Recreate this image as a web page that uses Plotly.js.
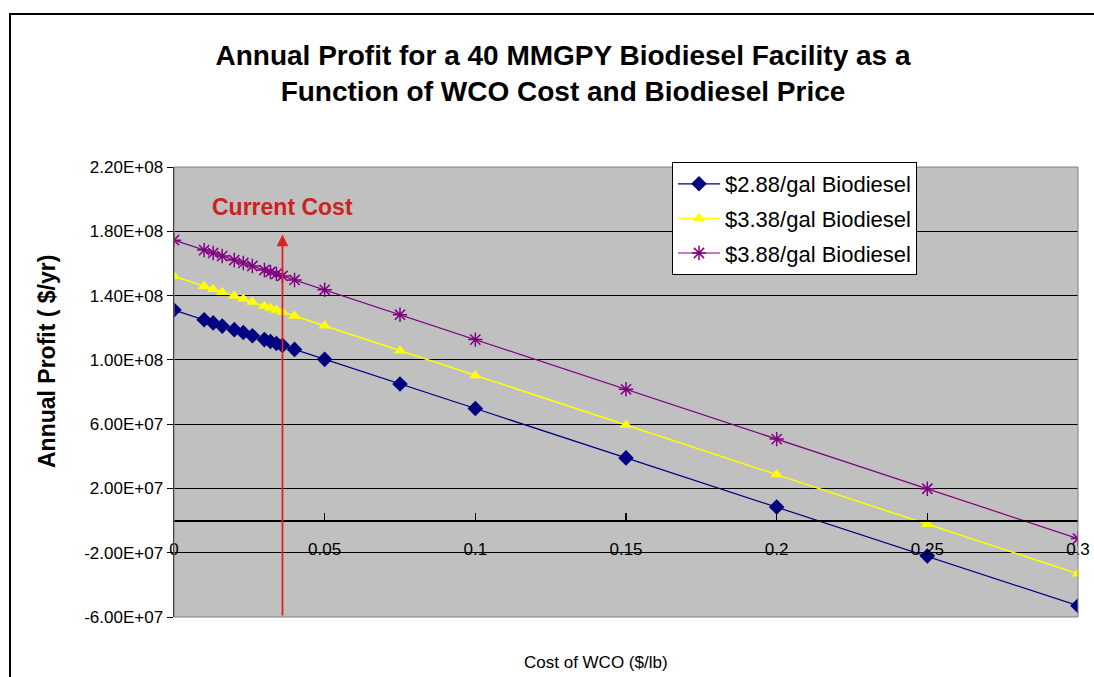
<!DOCTYPE html>
<html>
<head>
<meta charset="utf-8">
<script src="https://cdn.plot.ly/plotly-3.0.1.min.js"></script>
<style>
html,body{margin:0;padding:0;background:#fff;}
#chart{width:1094px;height:677px;}
</style>
</head>
<body>
<div id="chart"></div>
<script>
// WCO cost ($/lb)
const wcoCost = [0, 0.01, 0.013, 0.016, 0.02, 0.023, 0.026, 0.03, 0.032, 0.034, 0.036, 0.04, 0.05, 0.075, 0.1, 0.15, 0.2, 0.25, 0.3];
// Annual profit ($/yr)
const profit288 = [1.31e8, 1.25e8, 1.23e8, 1.21e8, 1.188e8, 1.17e8, 1.15e8, 1.126e8, 1.114e8, 1.102e8, 1.09e8, 1.065e8, 1.003e8, 8.5e7, 6.97e7, 3.9e7, 8.4e6, -2.2e7, -5.3e7];
const profit338 = [1.52e8, 1.458e8, 1.44e8, 1.421e8, 1.397e8, 1.378e8, 1.36e8, 1.335e8, 1.323e8, 1.31e8, 1.298e8, 1.273e8, 1.212e8, 1.057e8, 9.03e7, 5.95e7, 2.86e7, -2.3e6, -3.31e7];
const profit388 = [1.745e8, 1.683e8, 1.665e8, 1.646e8, 1.621e8, 1.603e8, 1.584e8, 1.559e8, 1.547e8, 1.535e8, 1.522e8, 1.497e8, 1.436e8, 1.281e8, 1.126e8, 8.17e7, 5.07e7, 1.98e7, -1.12e7];
const seriesNames = ["$2.88/gal Biodiesel", "$3.38/gal Biodiesel", "$3.88/gal Biodiesel"];
// Axis ticks
const xTickVals = [0, 0.05, 0.1, 0.15, 0.2, 0.25, 0.3];
const xTickText = ["0", "0.05", "0.1", "0.15", "0.2", "0.25", "0.3"];
const yTickVals = [-6e7, -2e7, 2e7, 6e7, 1e8, 1.4e8, 1.8e8, 2.2e8];
const yTickText = ["-6.00E+07", "-2.00E+07", "2.00E+07", "6.00E+07", "1.00E+08", "1.40E+08", "1.80E+08", "2.20E+08"];
// Annotation values
const currentCost = 0.036;
const arrowTop = 1.78e8;
const labelY = 1.95e8;

const FONT = "Liberation Sans, Arial, sans-serif";

const traces = [
  {x: wcoCost, y: profit288, name: seriesNames[0], mode: "lines+markers", legendgroup: "a",
   line: {color: "#000080", width: 1.2}, marker: {symbol: "diamond", size: 12, color: "#000080"}},
  {x: wcoCost, y: profit338, name: seriesNames[1], mode: "lines+markers", legendgroup: "b",
   line: {color: "#ffff00", width: 1.5}, marker: {symbol: "triangle-up", size: 11, color: "#ffff00"}},
  {x: wcoCost, y: profit388, name: seriesNames[2], mode: "lines+markers", legendgroup: "c",
   line: {color: "#800080", width: 1.2}, marker: {symbol: "asterisk-open", size: 12, color: "#800080", line: {color: "#800080", width: 1.5}}}
];

const L = 174, R = 16, T = 167, B = 60, W = 1094, H = 677;
const pw = W - L - R, ph = H - T - B;
const px = v => (v - L) / pw;        // pixel -> paper x
const py = v => (H - B - v) / ph;    // pixel -> paper y

const layout = {
  width: W, height: H,
  margin: {l: L, r: R, t: T, b: B, pad: 0},
  paper_bgcolor: "#ffffff",
  plot_bgcolor: "#c0c0c0",
  font: {family: FONT, color: "#000"},
  title: {
    text: "Annual Profit for a 40 MMGPY Biodiesel Facility as a<br>Function of WCO Cost and Biodiesel Price",
    font: {family: FONT, size: 28, color: "#000", weight: "bold"},
    x: 563 / W, xanchor: "center", xref: "container",
    y: (H - 65) / H, yanchor: "middle", yref: "container"
  },
  xaxis: {
    range: [0, 0.3], tickvals: xTickVals, ticktext: xTickText,
    showgrid: false, zeroline: false,
    showline: true, linecolor: "#000", linewidth: 2.5,
    anchor: "free", position: (0 - yTickVals[0]) / (yTickVals[yTickVals.length - 1] - yTickVals[0]),
    ticks: "inside", ticklen: 7, tickwidth: 1.5, tickcolor: "#000",
    ticklabelstandoff: 13,
    tickfont: {family: FONT, size: 17, color: "#000"},
    fixedrange: true
  },
  yaxis: {
    range: [yTickVals[0], yTickVals[yTickVals.length - 1]],
    tickvals: yTickVals, ticktext: yTickText,
    showgrid: true, gridcolor: "#000", gridwidth: 1,
    zeroline: false,
    showline: true, linecolor: "#000", linewidth: 1.5,
    ticks: "outside", ticklen: 6, tickcolor: "#000",
    tickfont: {family: FONT, size: 17, color: "#000"},
    fixedrange: true
  },
  legend: {
    x: px(672), y: py(162), xanchor: "left", yanchor: "top",
    bgcolor: "#ffffff", bordercolor: "#000", borderwidth: 1,
    font: {family: FONT, size: 22, color: "#000"},
    itemwidth: 42,
    tracegroupgap: 3
  },
  shapes: [
    {type: "rect", xref: "paper", yref: "paper", x0: px(10), x1: px(1100), y0: py(690), y1: py(14),
     line: {color: "#000", width: 2}, fillcolor: "rgba(0,0,0,0)", layer: "below"},
    {type: "rect", xref: "paper", yref: "paper", x0: 0, x1: 1, y0: 0, y1: 1,
     line: {color: "#808080", width: 1}, fillcolor: "rgba(0,0,0,0)"}
  ],
  annotations: [
    {x: currentCost, y: arrowTop, ax: currentCost, ay: yTickVals[0], xref: "x", yref: "y", axref: "x", ayref: "y",
     text: "", showarrow: true, arrowhead: 2, arrowsize: 1.3, arrowwidth: 1.8, arrowcolor: "#e02020"},
    {x: currentCost, y: labelY, xref: "x", yref: "y", text: "<b>Current Cost</b>", showarrow: false,
     font: {family: FONT, size: 23, color: "#cc2222"}, xanchor: "center", yanchor: "middle"},
    {x: px(596), y: py(662), xref: "paper", yref: "paper", text: "Cost of WCO ($/lb)", showarrow: false,
     font: {family: FONT, size: 17, color: "#000"}, xanchor: "center", yanchor: "middle"},
    {x: px(47), y: py(362), xref: "paper", yref: "paper", text: "<b>Annual Profit ( $/yr)</b>", showarrow: false,
     textangle: -90, font: {family: FONT, size: 23, color: "#000"}, xanchor: "center", yanchor: "middle"}
  ]
};

Plotly.newPlot("chart", traces, layout, {displayModeBar: false, staticPlot: true});
</script>
</body>
</html>
